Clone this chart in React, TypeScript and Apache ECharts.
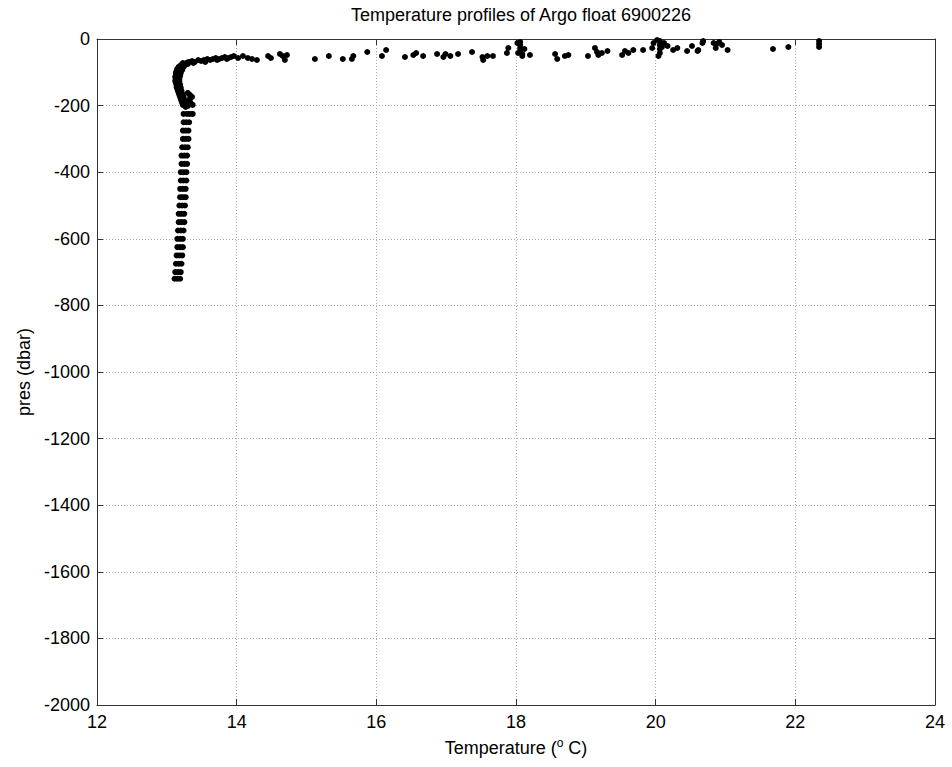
import React, { useEffect, useRef } from "react";
import * as echarts from "echarts";

const titleText = "Temperature profiles of Argo float 6900226";
const xTicks = [12, 14, 16, 18, 20, 22, 24];
const yTicks = [0, -200, -400, -600, -800, -1000, -1200, -1400, -1600, -1800, -2000];

// Deep part of the profiles: [temperature, pressure]
const deepProfile: number[][] = [
  [13.24, -225], [13.29, -225], [13.33, -225], [13.37, -225],
  [13.24, -250], [13.28, -250], [13.32, -250],
  [13.23, -275], [13.27, -275], [13.31, -275],
  [13.23, -300], [13.27, -300], [13.31, -300],
  [13.22, -325], [13.26, -325], [13.30, -325],
  [13.21, -350], [13.25, -350], [13.29, -350],
  [13.21, -375], [13.25, -375], [13.29, -375],
  [13.20, -400], [13.24, -400], [13.28, -400],
  [13.20, -425], [13.24, -425], [13.28, -425],
  [13.19, -450], [13.23, -450], [13.27, -450],
  [13.19, -475], [13.23, -475], [13.27, -475],
  [13.18, -500], [13.22, -500], [13.26, -500],
  [13.17, -525], [13.21, -525], [13.25, -525],
  [13.17, -550], [13.21, -550], [13.25, -550],
  [13.16, -575], [13.20, -575], [13.24, -575],
  [13.15, -600], [13.19, -600], [13.23, -600],
  [13.15, -625], [13.19, -625], [13.23, -625],
  [13.14, -650], [13.18, -650], [13.22, -650],
  [13.13, -675], [13.17, -675], [13.21, -675],
  [13.12, -700], [13.16, -700], [13.20, -700],
  [13.11, -720], [13.15, -720], [13.19, -720],
];

// The hook between 70 and 210 dbar
const hookProfile: number[][] = [
  [13.23, -72], [13.20, -78], [13.17, -84], [13.15, -90], [13.14, -96], [13.13, -102],
  [13.13, -108], [13.12, -114], [13.13, -120], [13.12, -126], [13.13, -132], [13.14, -138],
  [13.14, -144], [13.15, -150], [13.16, -156], [13.17, -162], [13.18, -168], [13.19, -174],
  [13.20, -180], [13.21, -186], [13.22, -192], [13.23, -198],
  [13.27, -75], [13.24, -84], [13.22, -93], [13.20, -102], [13.19, -111], [13.18, -120],
  [13.18, -129], [13.19, -138], [13.20, -147], [13.21, -156], [13.22, -165], [13.24, -174],
  [13.25, -183], [13.26, -192], [13.27, -201],
  [13.30, -70], [13.26, -78], [13.22, -87], [13.19, -96], [13.17, -105], [13.16, -114],
  [13.16, -123], [13.17, -132], [13.18, -141],
  [13.30, -162], [13.33, -168], [13.36, -174], [13.33, -180], [13.31, -186], [13.34, -192],
  [13.37, -198], [13.30, -201], [13.27, -204],
];

// Thermocline trail just below the mixed layer
const thermocline: number[][] = [
  [13.25, -78], [13.28, -72], [13.32, -69], [13.36, -66], [13.40, -69], [13.45, -63],
  [13.49, -66], [13.53, -63], [13.58, -60], [13.62, -63], [13.66, -60], [13.70, -57],
  [13.75, -60], [13.79, -57], [13.83, -54], [13.88, -57], [13.92, -54], [13.96, -51],
  [14.02, -57], [13.30, -75], [13.38, -72], [13.55, -69], [13.72, -63], [13.86, -60],
  [14.09, -51], [14.16, -57],
];

// Mixed-layer points near the surface
const surface: number[][] = [
  [14.22, -60], [14.29, -63], [14.45, -51], [14.49, -57], [14.62, -45], [14.66, -51],
  [14.69, -63], [14.72, -48], [15.12, -60], [15.32, -51], [15.52, -60], [15.65, -60],
  [15.67, -51], [15.87, -39], [16.08, -51], [16.14, -33], [16.41, -54], [16.53, -48],
  [16.57, -42], [16.67, -51], [16.87, -45], [16.96, -54], [16.99, -45], [17.06, -51],
  [17.17, -45], [17.37, -39], [17.52, -54], [17.53, -63], [17.59, -51], [17.67, -51],
  [17.87, -42], [17.89, -27], [18.02, -12], [18.06, -9], [18.06, -18], [18.06, -27],
  [18.06, -36], [18.09, -45], [18.09, -51], [18.03, -42], [18.12, -30], [18.20, -48],
  [18.56, -45], [18.59, -60], [18.70, -51], [18.75, -48], [19.03, -51], [19.13, -27],
  [19.16, -39], [19.18, -48], [19.23, -42], [19.31, -36], [19.52, -48], [19.56, -36],
  [19.61, -42], [19.68, -33], [19.82, -33], [19.95, -27], [19.97, -12], [20.02, -3],
  [20.06, -6], [20.06, -18], [20.06, -30], [20.06, -42], [20.04, -51], [20.09, -24],
  [20.12, -12], [20.17, -21], [20.25, -33], [20.31, -27], [20.45, -36], [20.60, -36],
  [20.52, -21], [20.61, -33], [20.67, -12], [20.68, -6], [20.83, -12], [20.87, -15],
  [20.91, -9], [20.95, -18], [20.86, -27], [21.03, -33], [21.68, -30], [21.90, -24],
  [22.34, -6], [22.34, -15], [22.34, -24],
];

const FONT = "'Liberation Sans', Arial, sans-serif";
const frameColor = "#333333";

export default function App() {
  const ref = useRef<HTMLDivElement>(null);
  useEffect(() => {
    if (!ref.current) return;
    const chart = echarts.init(ref.current, null, { renderer: "svg" });
    const allPoints = [...deepProfile, ...hookProfile, ...thermocline, ...surface];
    const xMin = xTicks[0];
    const xMax = xTicks[xTicks.length - 1];
    const yMin = yTicks[yTicks.length - 1];
    const yMax = yTicks[0];
    const baseX = {
      type: "value" as const,
      min: xMin,
      max: xMax,
      interval: 2,
      axisLine: { show: true, onZero: false, lineStyle: { color: frameColor, width: 1 } },
      axisTick: { show: true, inside: true, length: 6, lineStyle: { color: frameColor } },
      splitLine: { show: false },
    };
    const baseY = {
      type: "value" as const,
      min: yMin,
      max: yMax,
      interval: 200,
      axisLine: { show: true, onZero: false, lineStyle: { color: frameColor, width: 1 } },
      axisTick: { show: true, inside: true, length: 6, lineStyle: { color: frameColor } },
      splitLine: { show: false },
    };
    chart.setOption({
      animation: false,
      backgroundColor: "#ffffff",
      title: {
        text: titleText,
        left: 516,
        textAlign: "center",
        top: 1,
        textStyle: { fontFamily: FONT, fontSize: 18, fontWeight: "normal", color: "#000" },
      },
      grid: { left: 97, right: 17, top: 39, bottom: 62, containLabel: false },
      xAxis: [
        {
          ...baseX,
          position: "bottom",
          name: "{a|Temperature (}{s|o}{a| C)}",
          nameLocation: "middle",
          nameGap: 32,
          nameTextStyle: {
            rich: {
              a: { fontFamily: FONT, fontSize: 18, color: "#000", lineHeight: 22 },
              s: { fontFamily: FONT, fontSize: 12, color: "#000", verticalAlign: "top", lineHeight: 22, padding: [0, 0, 8, 0] },
            },
          },
          axisLabel: { fontFamily: FONT, fontSize: 18, color: "#000", margin: 8, formatter: (v: number) => String(v) },
          splitLine: { show: true, lineStyle: { type: [1, 2], color: "#a8a8a8", width: 1 } },
        },
        { ...baseX, position: "top", axisLabel: { show: false } },
      ],
      yAxis: [
        {
          ...baseY,
          position: "left",
          name: "pres (dbar)",
          nameLocation: "middle",
          nameGap: 52,
          nameTextStyle: { fontFamily: FONT, fontSize: 18, color: "#000" },
          axisLabel: { fontFamily: FONT, fontSize: 18, color: "#000", margin: 7, formatter: (v: number) => String(v) },
          splitLine: { show: true, lineStyle: { type: [1, 2], color: "#a8a8a8", width: 1 } },
        },
        { ...baseY, position: "right", axisLabel: { show: false } },
      ],
      series: [
        {
          type: "scatter",
          xAxisIndex: 0,
          yAxisIndex: 0,
          data: allPoints,
          symbol: "circle",
          symbolSize: 6,
          itemStyle: { color: "#000", opacity: 1 },
          silent: true,
        },
      ],
    });
    return () => chart.dispose();
  }, []);
  return (
    <div
      ref={ref}
      style={{ position: "fixed", left: 0, top: 0, width: 952, height: 767, background: "#fff" }}
    />
  );
}
